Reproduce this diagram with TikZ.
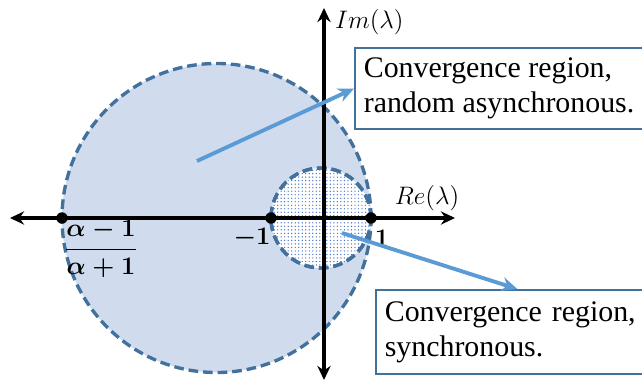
\documentclass[tikz,border=0pt]{standalone}
\usepackage{amsmath}
\usepackage{fontspec}
\setmainfont{Liberation Serif}
\usepackage{tikz}
\usetikzlibrary{arrows.meta,patterns.meta}
\definecolor{colfill}{HTML}{D0DCEE}
\definecolor{coledge}{HTML}{41719C}
\definecolor{colarrow}{HTML}{5B9BD5}
\definecolor{coldots}{HTML}{4472C4}

\begin{document}
\begin{tikzpicture}[
  font=\fontsize{17}{20}\selectfont,
  axis/.style={line width=2.1pt,{Stealth[length=8pt,width=7.5pt]}-{Stealth[length=8pt,width=7.5pt]}},
  ring/.style={coledge,line width=1.9pt,dash pattern=on 5.5pt off 2.8pt},
  dotpt/.style={circle,fill=black,inner sep=0pt,minimum size=6.5pt},
  note/.style={draw=coledge,line width=1.2pt,fill=white,align=left,inner xsep=5pt},
  pointer/.style={colarrow,line width=2.2pt,-{Stealth[length=9pt,width=8pt]}},
  lbl/.style={font=\fontsize{14}{16}\selectfont},
  numlab/.style={font=\fontsize{14}{16}\selectfont\boldmath},
]
  \useasboundingbox (-6.48,-3.26) rectangle (6.36,4.36);
  % ---- regiones ----
  \draw[ring,fill=colfill] (-2.15,0) circle (3.09);
  \draw[ring,fill=white,postaction={pattern={Dots[distance=2pt,radius=0.4pt]},pattern color=coldots}]
    (-0.06,0) circle (1.0);
  \draw[ring] (-0.06,0) circle (1.0);
  % ---- ejes ----
  \coordinate (xl) at (-6.28,0);
  \coordinate (xr) at (2.62,0);
  \coordinate (yb) at (0,-3.24);
  \coordinate (yt) at (0,4.20);
  \draw[axis] (xl) -- (xr);
  \draw[axis] (yb) -- (yt);
  \node[lbl,anchor=west] (imlab) at (0.10,3.92) {$Im(\lambda)$};
  \node[lbl] (relab) at (2.06,0.40) {$Re(\lambda)$};
  % ---- puntos ----
  \node[dotpt] (pfrac) at (-5.24,0) {};
  \node[dotpt] (pneg)  at (-1.06,0) {};
  \node[dotpt] (pone)  at (0.94,0)  {};
  \node[numlab] (lfrac) at (-4.46,-0.62) {$\displaystyle\frac{\alpha-1}{\alpha+1}$};
  \node[numlab] (lneg)  at (-1.44,-0.40) {$-1$};
  \node[numlab] (lone)  at (1.16,-0.40)  {$1$};
  % ---- notas ----
  \node[note,anchor=north west,minimum height=1.62cm] (boxa) at (0.60,3.42)
    {Convergence region,\\random asynchronous.};
  \node[note,anchor=north west,text width=5.3cm,minimum height=1.68cm] (boxb) at (1.02,-1.42)
    {Convergence region,\\synchronous.};
  \coordinate (taila) at (-2.54,1.14);
  \coordinate (tailb) at (0.36,-0.30);
  \draw[pointer] (taila) -- (boxa.west);
  \draw[pointer] (tailb) -- (boxb.north);
\end{tikzpicture}
\end{document}
